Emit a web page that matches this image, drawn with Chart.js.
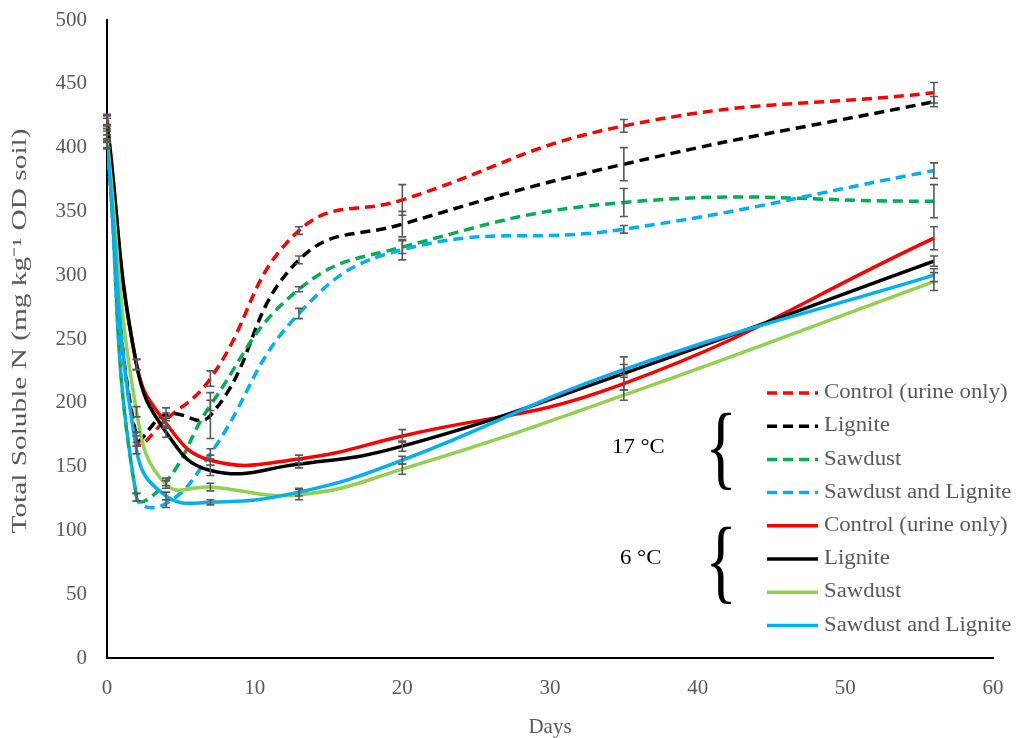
<!DOCTYPE html>
<html>
<head>
<meta charset="utf-8">
<script src="https://cdn.jsdelivr.net/npm/chart.js@4"></script>
<style>
  html, body { margin: 0; padding: 0; background: #fff; }
  #wrap { width: 1017px; height: 738px; position: relative; }
</style>
</head>
<body>
<div id="wrap"><canvas id="myChart" width="1017" height="738"></canvas></div>
<script>
const days = [0, 2, 4, 7, 13, 20, 35, 56];
const xTicks = [0, 10, 20, 30, 40, 50, 60];

// 17 °C (dashed)
const control17 = [422, 170, 187, 219, 335, 359, 417, 443];
const lignite17 = [420, 173, 191, 190, 312, 340, 387, 436];
const sawdust17 = [410, 126, 138, 198, 289, 322, 357, 358];
const sawLig17 = [403, 126, 121, 160, 270, 320, 336, 382];
// 6 °C (solid)
const control6 = [421, 230, 184, 155, 156, 174, 215, 329];
const lignite6 = [419, 230, 177, 147, 152, 166, 223, 311];
const sawdust6 = [407, 193, 136, 134, 128, 148, 206, 295];
const sawLig6 = [402, 163, 127, 122, 130, 155, 226, 300];

// error bar half widths
const errControl17 = [4, 4, 5, 6, 3, 12, 5, 8];
const errLignite17 = [5, 4, 5, 18, 3, 10, 13, 4];
const errSawdust17 = [3, 3, 3, 4, 2, 5, 11, 13];
const errSawLig17 = [3, 3, 3, 4, 4, 8, 3, 6];
const errControl6 = [4, 4, 4, 4, 3, 5, 5, 9];
const errLignite6 = [4, 4, 4, 4, 3, 4, 13, 4];
const errSawdust6 = [3, 4, 3, 3, 4, 4, 4, 7];
const errSawLig6 = [3, 3, 3, 2, 3, 3, 4, 5];

const labels17 = ['Control (urine only)', 'Lignite', 'Sawdust', 'Sawdust and Lignite'];
const labels6 = ['Control (urine only)', 'Lignite', 'Sawdust', 'Sawdust and Lignite'];
const yTitle = 'Total Soluble N (mg kg\u207B\u00B9 OD soil)';

const gray = '#595959';
const serif = "'Liberation Serif', 'Times New Roman', serif";

function series(label, vals, errs, color, dashed) {
    return {
        label: label,
        data: days.map((d, i) => ({ x: d, y: vals[i] })),
        errors: errs,
        borderColor: color,
        backgroundColor: color,
        borderWidth: 3.5,
        borderDash: dashed ? [10, 6] : [],
        pointRadius: 0,
        tension: 0.45,
        fill: false
    };
}

const datasets = [
    series(labels6[3], sawLig6, errSawLig6, '#00B0F0', false),
    series(labels6[2], sawdust6, errSawdust6, '#92D050', false),
    series(labels6[1], lignite6, errLignite6, '#000000', false),
    series(labels6[0], control6, errControl6, '#FF0000', false),
    series(labels17[3], sawLig17, errSawLig17, '#00B0F0', true),
    series(labels17[2], sawdust17, errSawdust17, '#00B050', true),
    series(labels17[1], lignite17, errLignite17, '#000000', true),
    series(labels17[0], control17, errControl17, '#FF0000', true)
];

// error bars drawn through the scales
const errorBars = {
    id: 'errorBars',
    afterDatasetsDraw(chart) {
        const ctx = chart.ctx;
        const xs = chart.scales.x, ys = chart.scales.y;
        ctx.save();
        ctx.strokeStyle = gray;
        ctx.lineWidth = 1.6;
        chart.data.datasets.forEach(ds => {
            ds.data.forEach((p, i) => {
                const e = ds.errors[i];
                const px = xs.getPixelForValue(p.x);
                const top = ys.getPixelForValue(p.y + e);
                const bot = ys.getPixelForValue(p.y - e);
                ctx.beginPath();
                ctx.moveTo(px, top); ctx.lineTo(px, bot);
                ctx.moveTo(px - 4, top); ctx.lineTo(px + 4, top);
                ctx.moveTo(px - 4, bot); ctx.lineTo(px + 4, bot);
                ctx.stroke();
            });
        });
        ctx.restore();
    }
};

// stretched text like the original export
function wideText(ctx, text, x, y, sx, align) {
    ctx.save();
    ctx.translate(x, y);
    ctx.scale(sx, 1);
    ctx.textAlign = align;
    ctx.fillText(text, 0, 0);
    ctx.restore();
}

// y title + legend with temperature braces inside the plot
const sideLegend = {
    id: 'sideLegend',
    afterDraw(chart) {
        const ctx = chart.ctx;
        ctx.save();
        ctx.textBaseline = 'middle';

        // y axis title
        ctx.font = '20px ' + serif;
        ctx.fillStyle = gray;
        const w = ctx.measureText(yTitle).width;
        ctx.save();
        ctx.translate(21, 331);
        ctx.rotate(-Math.PI / 2);
        ctx.scale(405 / w, 1);
        ctx.textAlign = 'center';
        ctx.fillText(yTitle, 0, 0);
        ctx.restore();

        const order = [7, 6, 5, 4, 3, 2, 1, 0];
        const x0 = 767, x1 = 818, tx = 824;
        let y = 393;
        order.forEach(k => {
            const ds = chart.data.datasets[k];
            ctx.strokeStyle = ds.borderColor;
            ctx.lineWidth = 3.5;
            ctx.setLineDash(ds.borderDash);
            ctx.beginPath();
            ctx.moveTo(x0, y); ctx.lineTo(x1, y);
            ctx.stroke();
            ctx.setLineDash([]);
            ctx.fillStyle = gray;
            wideText(ctx, ds.label, tx, y, 1.14, 'left');
            y += 33.2;
        });
        ctx.fillStyle = '#000';
        wideText(ctx, '17 \u00B0C', 612, 448, 1.14, 'left');
        wideText(ctx, '6 \u00B0C', 620, 559, 1.14, 'left');
        // braces
        [[721, 449], [721, 563]].forEach(b => {
            ctx.save();
            ctx.translate(b[0], b[1]);
            ctx.scale(0.7, 1);
            ctx.font = '94px ' + serif;
            ctx.textAlign = 'center';
            ctx.textBaseline = 'middle';
            ctx.fillText('{', 0, 4);
            ctx.restore();
        });
        ctx.restore();
    }
};

const ctx = document.getElementById('myChart').getContext('2d');
const myChart = new Chart(ctx, {
    type: 'line',
    data: { datasets: datasets },
    options: {
        responsive: false,
        animation: false,
        layout: { padding: { left: 0, right: 24, top: 20, bottom: 0 } },
        plugins: {
            legend: { display: false },
            tooltip: { enabled: false }
        },
        scales: {
            x: {
                type: 'linear',
                min: 0,
                max: 60,
                afterBuildTicks: s => { s.ticks = xTicks.map(v => ({ value: v })); },
                grid: { display: false, drawTicks: false },
                border: { display: true, color: '#000', width: 2 },
                ticks: { color: gray, font: { family: serif, size: 21 }, padding: 18 },
                title: { display: true, text: 'Days', color: gray, font: { family: serif, size: 21 }, padding: { top: 0, bottom: -2 } },
                afterFit: s => { s.height = 80; s.paddingLeft = 0; s.paddingRight = 0; }
            },
            y: {
                min: 0,
                max: 500,
                grid: { display: false, drawTicks: false },
                border: { display: true, color: '#000', width: 2 },
                ticks: { stepSize: 50, color: gray, font: { family: serif, size: 21 }, padding: 20 },
                afterFit: s => { s.width = 107; s.paddingTop = 0; s.paddingBottom = 0; }
            }
        }
    },
    plugins: [errorBars, sideLegend]
});
</script>
</body>
</html>
